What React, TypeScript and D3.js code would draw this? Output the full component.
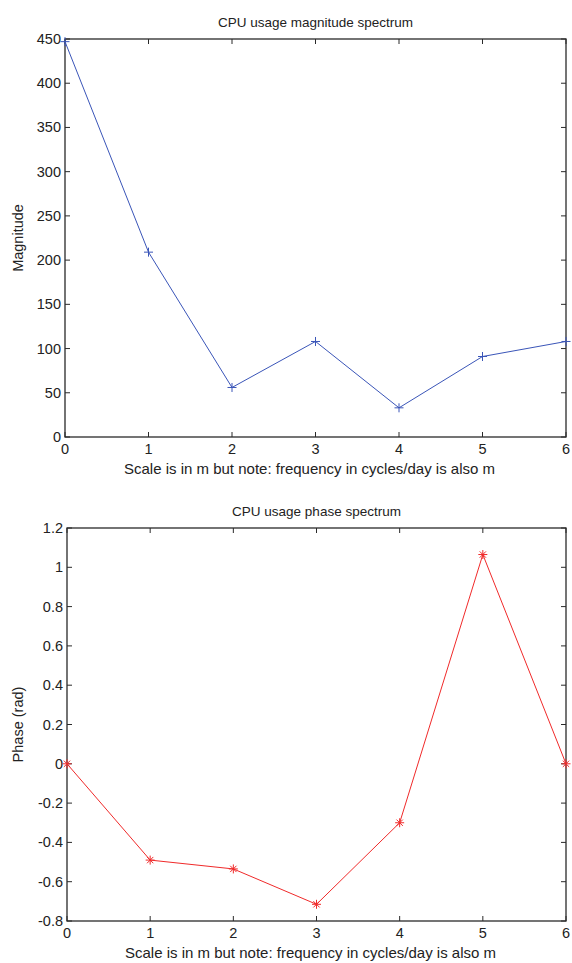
import React from "react";
import * as d3 from "d3";

const freqs = [0, 1, 2, 3, 4, 5, 6];
const magnitude = [447, 209, 56, 108, 33, 91, 108];
const phase = [0, -0.49, -0.535, -0.715, -0.3, 1.065, 0];
const magTicks = [0, 50, 100, 150, 200, 250, 300, 350, 400, 450];
const phaseTicks = [-0.8, -0.6, -0.4, -0.2, 0, 0.2, 0.4, 0.6, 0.8, 1, 1.2];
const xTicks = [0, 1, 2, 3, 4, 5, 6];

const W = 572;
const H = 963;
const FONT = "'Liberation Sans', Arial, Helvetica, sans-serif";
const AXIS = "#2a2a2a";

type PanelProps = {
  top: number;
  bottom: number;
  left: number;
  right: number;
  values: number[];
  yDomain: [number, number];
  yTicks: number[];
  color: string;
  marker: "plus" | "star";
  title: string;
  ylabel: string;
  fmt: (v: number) => string;
};

function Marker({ x, y, kind, color }: { x: number; y: number; kind: string; color: string }) {
  const s = 4.5;
  if (kind === "plus") {
    return (
      <g stroke={color} strokeWidth={1}>
        <line x1={x - s} x2={x + s} y1={y} y2={y} />
        <line x1={x} x2={x} y1={y - s} y2={y + s} />
      </g>
    );
  }
  const d = s * 0.7;
  return (
    <g stroke={color} strokeWidth={1}>
      <line x1={x - s} x2={x + s} y1={y} y2={y} />
      <line x1={x} x2={x} y1={y - s} y2={y + s} />
      <line x1={x - d} x2={x + d} y1={y - d} y2={y + d} />
      <line x1={x - d} x2={x + d} y1={y + d} y2={y - d} />
    </g>
  );
}

function Panel(p: PanelProps) {
  const x = d3.scaleLinear().domain([0, 6]).range([p.left, p.right]);
  const y = d3.scaleLinear().domain(p.yDomain).range([p.bottom, p.top]);
  const line = d3
    .line<number>()
    .x((_, i) => x(freqs[i]))
    .y((v) => y(v));
  const tl = 5;
  const cx = (p.left + p.right) / 2;
  return (
    <g fontFamily={FONT} fill="#222">
      <text x={cx} y={p.top - 12} textAnchor="middle" fontSize={13.5}>
        {p.title}
      </text>
      <rect
        x={p.left}
        y={p.top}
        width={p.right - p.left}
        height={p.bottom - p.top}
        fill="none"
        stroke={AXIS}
        strokeWidth={1.3}
      />
      {xTicks.map((t) => (
        <g key={"x" + t}>
          <line x1={x(t)} x2={x(t)} y1={p.bottom} y2={p.bottom - tl} stroke={AXIS} />
          <line x1={x(t)} x2={x(t)} y1={p.top} y2={p.top + tl} stroke={AXIS} />
          <text x={x(t)} y={p.bottom + 17} textAnchor="middle" fontSize={14.5}>
            {t}
          </text>
        </g>
      ))}
      {p.yTicks.map((t) => (
        <g key={"y" + t}>
          <line x1={p.left} x2={p.left + tl} y1={y(t)} y2={y(t)} stroke={AXIS} />
          <line x1={p.right} x2={p.right - tl} y1={y(t)} y2={y(t)} stroke={AXIS} />
          <text x={p.left - 4} y={y(t) + 5} textAnchor="end" fontSize={14.5}>
            {p.fmt(t)}
          </text>
        </g>
      ))}
      <text x={cx - 6} y={p.bottom + 37} textAnchor="middle" fontSize={15}>
        Scale is in m but note: frequency in cycles/day is also m
      </text>
      <text
        transform={`translate(${23},${(p.top + p.bottom) / 2}) rotate(-90)`}
        textAnchor="middle"
        fontSize={14.5}
      >
        {p.ylabel}
      </text>
      <path d={line(p.values) || ""} fill="none" stroke={p.color} strokeWidth={1} />
      {p.values.map((v, i) => (
        <Marker key={i} x={x(freqs[i])} y={y(v)} kind={p.marker} color={p.color} />
      ))}
    </g>
  );
}

export default function App() {
  return (
    <svg
      width={W}
      height={H}
      style={{ position: "absolute", left: 0, top: 0, background: "#fff" }}
    >
      <rect width={W} height={H} fill="#fff" />
      <Panel
        top={39}
        bottom={437}
        left={65}
        right={566}
        values={magnitude}
        yDomain={[0, 450]}
        yTicks={magTicks}
        color="#3a55b8"
        marker="plus"
        title="CPU usage magnitude spectrum"
        ylabel="Magnitude"
        fmt={(v) => String(v)}
      />
      <Panel
        top={528}
        bottom={921}
        left={67}
        right={566}
        values={phase}
        yDomain={[-0.8, 1.2]}
        yTicks={phaseTicks}
        color="#f02a2a"
        marker="star"
        title="CPU usage phase spectrum"
        ylabel="Phase (rad)"
        fmt={(v) => String(Math.round(v * 10) / 10)}
      />
    </svg>
  );
}
